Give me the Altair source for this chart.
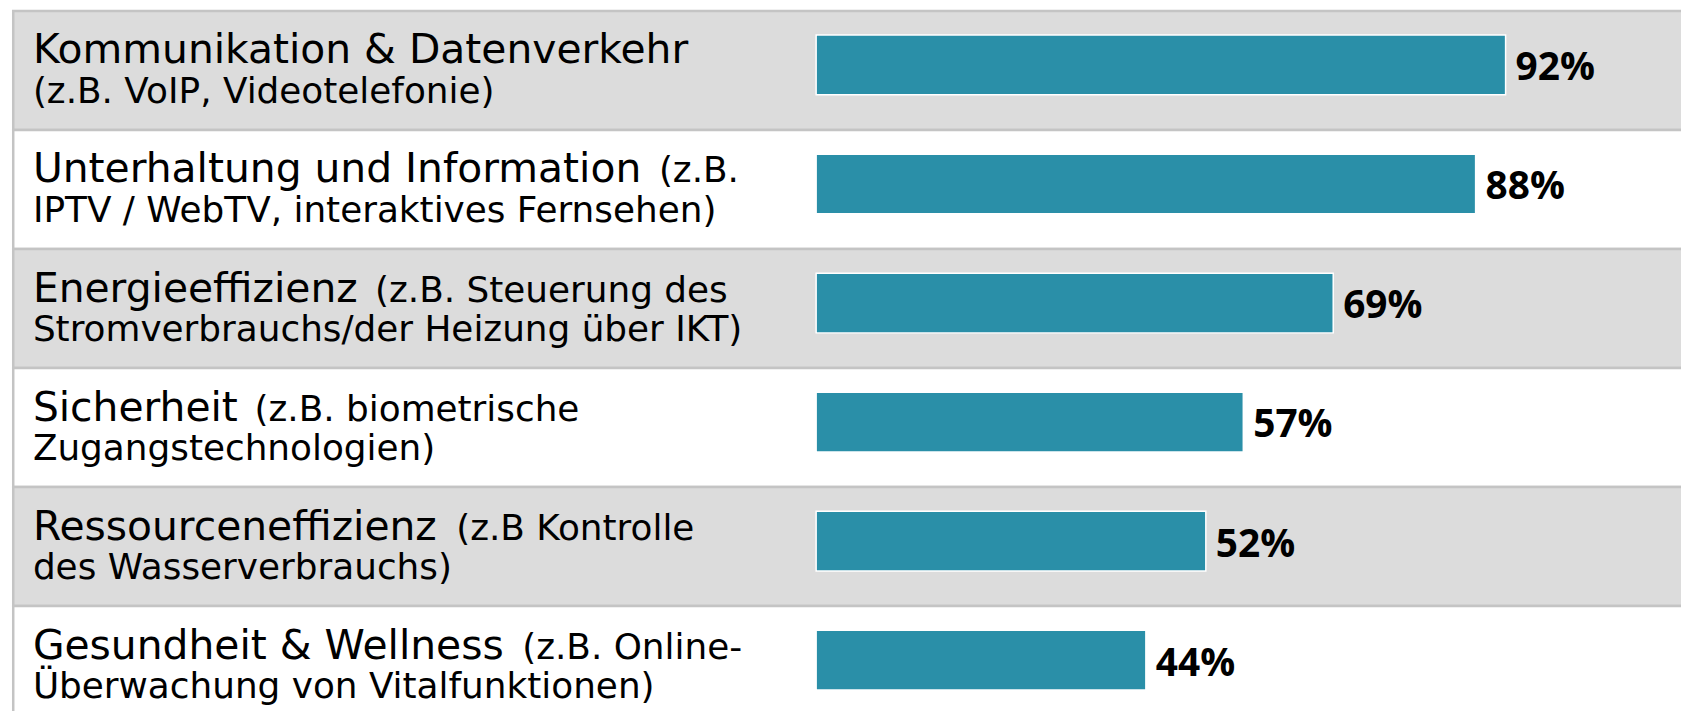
import altair as alt
import pandas as pd

# ---- data ----
categories = [
    "Kommunikation & Datenverkehr",
    "Unterhaltung und Information",
    "Energieeffizienz",
    "Sicherheit",
    "Ressourceneffizienz",
    "Gesundheit & Wellness",
]
examples_line1 = ["", "(z.B.", "(z.B. Steuerung des", "(z.B. biometrische", "(z.B Kontrolle", "(z.B. Online-"]
examples_line2 = [
    "(z.B. VoIP, Videotelefonie)",
    "IPTV / WebTV, interaktives Fernsehen)",
    "Stromverbrauchs/der Heizung über IKT)",
    "Zugangstechnologien)",
    "des Wasserverbrauchs)",
    "Überwachung von Vitalfunktionen)",
]
values = [92, 88, 69, 57, 52, 44]

# ---- style ----
BIG = 41
SMALL = 36
LEFT = 25
W, H = 1681, 703
BAR = "#2a8fa8"
GRAY = "#dcdcdc"
LINE = "#c4c4c4"

# DejaVu Sans advance widths (em) used to place the smaller text after the heading
adv = {
    " ": 0.318, "&": 0.780, "a": 0.613, "c": 0.550, "d": 0.635, "e": 0.615, "f": 0.352,
    "g": 0.635, "h": 0.634, "i": 0.278, "k": 0.579, "l": 0.278, "m": 0.974, "n": 0.634,
    "o": 0.612, "r": 0.411, "s": 0.521, "t": 0.392, "u": 0.634, "v": 0.592, "z": 0.525,
    "D": 0.770, "E": 0.632, "G": 0.775, "I": 0.295, "K": 0.656, "R": 0.695, "S": 0.635,
    "U": 0.732, "W": 0.989,
}


def text_width(s, size):
    return sum(adv.get(c, 0.6) for c in s) * size


df = pd.DataFrame({
    "cat": categories,
    "small1": examples_line1,
    "small2": examples_line2,
    "value": values,
    "label": [f"{v}%" for v in values],
    "shade": ["gray" if i % 2 == 0 else "white" for i in range(len(categories))],
    "sx": [LEFT + text_width(c, BIG) + adv[" "] * BIG + 3 for c in categories],
})

yenc = alt.Y(
    "cat:N", sort=categories, axis=None,
    scale=alt.Scale(range=[1.25, 718.85], paddingInner=0, paddingOuter=0),
)
xscale = alt.Scale(domain=[0, 100], range=[812, 1565])

base = alt.Chart(df)

bg = base.mark_rect(stroke=LINE, strokeWidth=2.5).encode(
    y=yenc,
    x=alt.value(5.25),
    x2=alt.value(1900),
    color=alt.Color("shade:N", scale=alt.Scale(domain=["gray", "white"], range=[GRAY, "#ffffff"]), legend=None),
)

bars = base.mark_bar(height=60, yOffset=-5.5, color=BAR, stroke="white", strokeWidth=1.5).encode(
    y=yenc,
    x=alt.X("value:Q", axis=None, scale=xscale),
)

pct = base.mark_text(
    align="left", baseline="alphabetic", dx=10, dy=10,
    font="Open Sans", fontWeight="bold", fontSize=39, color="#000000",
).encode(
    y=yenc,
    x=alt.X("value:Q", axis=None, scale=xscale),
    text="label:N",
)

big = base.mark_text(
    align="left", baseline="alphabetic", dy=-7,
    font="DejaVu Sans", fontSize=BIG, color="#000000",
).encode(y=yenc, x=alt.value(LEFT), text="cat:N")

small1 = base.mark_text(
    align="left", baseline="alphabetic", dy=-7,
    font="DejaVu Sans", fontSize=SMALL, color="#000000",
).encode(y=yenc, x=alt.X("sx:Q", scale=None, axis=None), text="small1:N")

small2 = base.mark_text(
    align="left", baseline="alphabetic", dy=33,
    font="DejaVu Sans", fontSize=SMALL, color="#000000",
).encode(y=yenc, x=alt.value(LEFT), text="small2:N")

chart = (
    alt.layer(bg, bars, pct, big, small1, small2)
    .resolve_scale(x="independent")
    .properties(width=W, height=H, padding=0, autosize=alt.AutoSizeParams(type="none"), background="white")
    .configure_view(stroke=None)
)

chart.save("out.html", embed_options={"renderer": "svg", "actions": False})
